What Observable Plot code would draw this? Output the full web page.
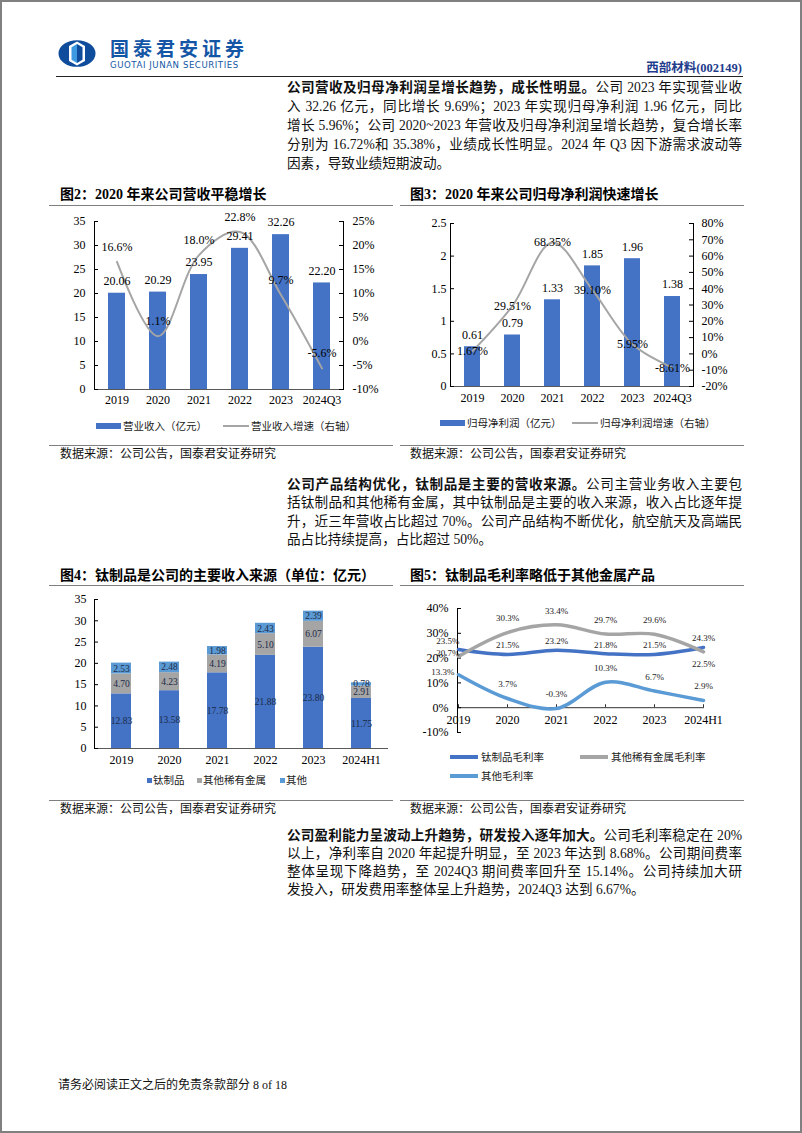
<!DOCTYPE html>
<html><head><meta charset="utf-8">
<script src="https://cdn.jsdelivr.net/npm/d3@7"></script>
<script src="https://cdn.jsdelivr.net/npm/@observablehq/plot@0.6"></script>
<style>
html,body{margin:0;padding:0;background:#fff;}
body{width:802px;height:1133px;position:relative;overflow:hidden;font-family:"Liberation Serif","Noto Sans CJK SC",serif;color:#111;}
.abs{position:absolute;}
.border{position:absolute;left:0;top:0;width:802px;height:1133px;box-sizing:border-box;border:2px solid #808080;}
.para{position:absolute;left:287px;width:455px;font-size:13.6px;}
.para div{white-space:nowrap;text-align:justify;text-align-last:justify;}
.para div.last{text-align-last:left;}
.title{position:absolute;font-weight:bold;font-size:14px;line-height:16px;white-space:nowrap;color:#000;}
.rule{position:absolute;height:0;border-top:1px solid #7f7f7f;}
.src{position:absolute;font-size:12px;line-height:14px;white-space:nowrap;color:#111;}
.lg{position:absolute;font-size:10.5px;line-height:14px;white-space:nowrap;color:#222;font-family:"Noto Sans CJK SC",sans-serif;}
.sw{position:absolute;}
svg.chart{position:absolute;}
</style>
</head>
<body>
<div class="border"></div>

<!-- header -->
<svg class="abs" style="left:58px;top:40px" width="38" height="27" viewBox="0 0 38 27">
  <ellipse cx="19" cy="13.5" rx="18.5" ry="13.3" fill="#0f4c9c"/>
  <polygon points="19,1.5 27,6 27,21 19,25.5 11,21 11,6" fill="#ffffff"/>
  <polygon points="19,4 19,23 13.5,19.8 13.5,7.2" fill="#3d9ae2"/>
  <polygon points="19,4 24.5,7.2 24.5,19.8 19,23" fill="#0f4c9c"/>
</svg>
<div class="abs" style="left:110px;top:38px;font-family:'Noto Sans CJK SC',sans-serif;font-weight:bold;font-size:19px;line-height:19px;height:19px;letter-spacing:4px;color:#1456a6;white-space:nowrap;">国泰君安证券</div>
<div class="abs" style="left:110px;top:60.5px;font-family:'DejaVu Sans',sans-serif;font-size:8.6px;line-height:9px;letter-spacing:0.55px;color:#1456a6;white-space:nowrap;">GUOTAI JUNAN SECURITIES</div>
<div class="abs" style="left:600px;width:142px;top:60px;text-align:right;font-weight:bold;font-size:12.5px;line-height:16px;color:#1f3d8c;white-space:nowrap;">西部材料(002149)</div>
<div class="abs" style="left:56px;width:687px;top:76px;height:0;border-top:1.6px solid #222;"></div>

<div class="para" style="top:78px;line-height:19px;">
<div><b>公司营收及归母净利润呈增长趋势，成长性明显。</b>公司 2023 年实现营业收</div>
<div>入 32.26 亿元，同比增长 9.69%；2023 年实现归母净利润 1.96 亿元，同比</div>
<div>增长 5.96%；公司 2020~2023 年营收及归母净利润呈增长趋势，复合增长率</div>
<div>分别为 16.72%和 35.38%，业绩成长性明显。2024 年 Q3 因下游需求波动等</div>
<div class="last">因素，导致业绩短期波动。</div>
</div>

<!-- chart titles / rules / sources -->
<div class="title" style="left:60px;top:187px;">图2：2020 年来公司营收平稳增长</div>
<div class="rule" style="left:49px;width:344px;top:205px;"></div>
<div class="title" style="left:410px;top:187px;">图3：2020 年来公司归母净利润快速增长</div>
<div class="rule" style="left:400px;width:344px;top:205px;"></div>
<div class="rule" style="left:49px;width:344px;top:445px;"></div>
<div class="rule" style="left:400px;width:344px;top:445px;"></div>
<div class="src" style="left:60px;top:447px;">数据来源：公司公告，国泰君安证券研究</div>
<div class="src" style="left:410px;top:447px;">数据来源：公司公告，国泰君安证券研究</div>

<div class="para" style="top:476px;line-height:18.3px;">
<div><b>公司产品结构优化，钛制品是主要的营收来源。</b>公司主营业务收入主要包</div>
<div>括钛制品和其他稀有金属，其中钛制品是主要的收入来源，收入占比逐年提</div>
<div>升，近三年营收占比超过 70%。公司产品结构不断优化，航空航天及高端民</div>
<div class="last">品占比持续提高，占比超过 50%。</div>
</div>

<div class="title" style="left:60px;top:568px;">图4：钛制品是公司的主要收入来源（单位：亿元）</div>
<div class="rule" style="left:49px;width:344px;top:585px;"></div>
<div class="title" style="left:410px;top:568px;">图5：钛制品毛利率略低于其他金属产品</div>
<div class="rule" style="left:400px;width:344px;top:585px;"></div>
<div class="rule" style="left:49px;width:344px;top:800px;"></div>
<div class="rule" style="left:400px;width:344px;top:800px;"></div>
<div class="src" style="left:60px;top:802px;">数据来源：公司公告，国泰君安证券研究</div>
<div class="src" style="left:410px;top:802px;">数据来源：公司公告，国泰君安证券研究</div>

<div class="para" style="top:827px;line-height:18px;">
<div><b>公司盈利能力呈波动上升趋势，研发投入逐年加大。</b>公司毛利率稳定在 20%</div>
<div>以上，净利率自 2020 年起提升明显，至 2023 年达到 8.68%。公司期间费率</div>
<div>整体呈现下降趋势，至 2024Q3 期间费率回升至 15.14%。公司持续加大研</div>
<div class="last">发投入，研发费用率整体呈上升趋势，2024Q3 达到 6.67%。</div>
</div>

<div class="abs" style="left:58px;top:1078px;font-size:12px;line-height:14px;white-space:nowrap;">请务必阅读正文之后的免责条款部分 8 of 18</div>

<!-- legends -->
<div class="sw" style="left:96px;top:423px;width:25px;height:6px;background:#4472C4"></div>
<div class="lg" style="left:123px;top:419px;">营业收入（亿元）</div>
<div class="sw" style="left:223px;top:425px;width:26px;height:2px;background:#A5A5A5"></div>
<div class="lg" style="left:251px;top:419px;">营业收入增速（右轴）</div>

<div class="sw" style="left:440px;top:420px;width:25px;height:6px;background:#4472C4"></div>
<div class="lg" style="left:467px;top:416px;">归母净利润（亿元）</div>
<div class="sw" style="left:572px;top:422px;width:26px;height:2px;background:#A5A5A5"></div>
<div class="lg" style="left:600px;top:416px;">归母净利润增速（右轴）</div>

<div class="sw" style="left:147px;top:778px;width:5px;height:5px;background:#4472C4"></div>
<div class="lg" style="left:153px;top:773px;">钛制品</div>
<div class="sw" style="left:197px;top:778px;width:5px;height:5px;background:#A5A5A5"></div>
<div class="lg" style="left:203px;top:773px;">其他稀有金属</div>
<div class="sw" style="left:280px;top:778px;width:5px;height:5px;background:#5B9BD5"></div>
<div class="lg" style="left:286px;top:773px;">其他</div>

<div class="sw" style="left:450px;top:755px;width:28px;height:4px;background:#4472C4"></div>
<div class="lg" style="left:481px;top:750px;">钛制品毛利率</div>
<div class="sw" style="left:580px;top:755px;width:28px;height:4px;background:#A5A5A5"></div>
<div class="lg" style="left:611px;top:750px;">其他稀有金属毛利率</div>
<div class="sw" style="left:450px;top:774px;width:28px;height:4px;background:#5B9BD5"></div>
<div class="lg" style="left:481px;top:769px;">其他毛利率</div>

<script>
// ---------------- data ----------------
const years2 = ["2019", "2020", "2021", "2022", "2023", "2024Q3"];
const revenue = [20.06, 20.29, 23.95, 29.41, 32.26, 22.20];
const revenueGrowth = [16.6, 1.1, 18.0, 22.8, 9.7, -5.6];
const revTicksLeft = [0, 5, 10, 15, 20, 25, 30, 35];
const revTicksRight = [-10, -5, 0, 5, 10, 15, 20, 25];

const years3 = ["2019", "2020", "2021", "2022", "2023", "2024Q3"];
const netProfit = [0.61, 0.79, 1.33, 1.85, 1.96, 1.38];
const netProfitGrowth = [1.67, 29.51, 68.35, 39.10, 5.95, -8.61];
const npTicksLeft = [0, 0.5, 1, 1.5, 2, 2.5];
const npTicksRight = [-20, -10, 0, 10, 20, 30, 40, 50, 60, 70, 80];

const years4 = ["2019", "2020", "2021", "2022", "2023", "2024H1"];
const segments4 = ["钛制品", "其他稀有金属", "其他"];
const titaniumRev = [12.83, 13.58, 17.78, 21.88, 23.80, 11.75];
const rareMetalRev = [4.70, 4.23, 4.19, 5.10, 6.07, 2.91];
const otherRev = [2.53, 2.48, 1.98, 2.43, 2.39, 0.78];
const segTicks = [0, 5, 10, 15, 20, 25, 30, 35];

const years5 = ["2019", "2020", "2021", "2022", "2023", "2024H1"];
const series5 = ["钛制品毛利率", "其他稀有金属毛利率", "其他毛利率"];
const titaniumMargin = [23.5, 21.5, 23.2, 21.8, 21.5, 24.3];
const rareMetalMargin = [20.7, 30.3, 33.4, 29.7, 29.6, 22.5];
const otherMargin = [13.3, 3.7, -0.3, 10.3, 6.7, 2.9];
const marginTicks = [-10, 0, 10, 20, 30, 40];

// ---------------- helpers ----------------
const BLUE = "#4472C4", GRAY = "#A5A5A5", LBLUE = "#5B9BD5";
const FONT = '"Liberation Serif","Noto Sans CJK SC",serif';
function place(svg, left, top) {
  svg.classList.add("chart");
  svg.style.left = left + "px";
  svg.style.top = top + "px";
  document.body.appendChild(svg);
}
function dual(r0, r1, l0, l1) {
  return [g => (g - r0) / (r1 - r0) * (l1 - l0) + l0, v => (v - l0) / (l1 - l0) * (r1 - r0) + r0];
}
const baseStyle = {fontFamily: FONT, fontSize: "12px", color: "#000", background: "transparent", overflow: "visible"};

// ---------------- chart 2 ----------------
{
  const W = 343, H = 205, mL = 44, mR = 50, mT = 13, mB = 24, pw = W - mL - mR;
  const [toL, fromL] = dual(-10, 25, 0, 35);
  const rows = years2.map((y, i) => ({year: y, value: revenue[i], growth: revenueGrowth[i]}));
  const svg = Plot.plot({
    width: W, height: H, marginLeft: mL, marginRight: mR, marginTop: mT, marginBottom: mB,
    style: baseStyle,
    x: {type: "band", domain: years2, paddingInner: 0.59, paddingOuter: 0.295},
    y: {domain: [0, 35]},
    marks: [
      Plot.barY(rows, {x: "year", y: "value", fill: BLUE}),
      Plot.frame({anchor: "bottom", stroke: "#595959"}),
      Plot.frame({anchor: "left", stroke: "#000"}),
      Plot.frame({anchor: "right", stroke: "#000"}),
      Plot.tickY(revTicksLeft, {y: d => d, insetRight: pw - 4, stroke: "#000"}),
      Plot.tickY(revTicksRight.map(toL), {y: d => d, insetLeft: pw - 4, stroke: "#000"}),
      Plot.axisY(revTicksLeft, {anchor: "left", label: null, tickSize: 0, tickPadding: 9, tickFormat: d => String(d)}),
      Plot.axisY(revTicksRight.map(toL), {anchor: "right", label: null, tickSize: 0, tickPadding: 9, tickFormat: d => Math.round(fromL(d)) + "%"}),
      Plot.axisX({anchor: "bottom", label: null, tickSize: 0, tickPadding: 6}),
      Plot.line(rows, {x: "year", y: d => toL(d.growth), stroke: GRAY, strokeWidth: 2, curve: "catmull-rom"}),
      Plot.text(rows, {x: "year", y: "value", text: d => d.value.toFixed(2), dy: -12, fontSize: 12}),
      Plot.text(rows, {x: "year", y: d => toL(d.growth), text: d => d.growth.toFixed(1) + "%", dy: -15, fontSize: 12})
    ]
  });
  place(svg, 50, 208);
}

// ---------------- chart 3 ----------------
{
  const W = 343, H = 205, mL = 50, mR = 50, mT = 15, mB = 27, pw = W - mL - mR;
  const [toL, fromL] = dual(-20, 80, 0, 2.5);
  const rows = years3.map((y, i) => ({year: y, value: netProfit[i], growth: netProfitGrowth[i]}));
  const svg = Plot.plot({
    width: W, height: H, marginLeft: mL, marginRight: mR, marginTop: mT, marginBottom: mB,
    style: baseStyle,
    x: {type: "band", domain: years3, paddingInner: 0.6, paddingOuter: 0.3},
    y: {domain: [0, 2.5]},
    marks: [
      Plot.barY(rows, {x: "year", y: "value", fill: BLUE}),
      Plot.frame({anchor: "bottom", stroke: "#595959"}),
      Plot.frame({anchor: "left", stroke: "#000"}),
      Plot.frame({anchor: "right", stroke: "#000"}),
      Plot.tickY(npTicksLeft, {y: d => d, insetRight: pw - 4, stroke: "#000"}),
      Plot.tickY(npTicksRight.map(toL), {y: d => d, insetLeft: pw - 4, stroke: "#000"}),
      Plot.axisY(npTicksLeft, {anchor: "left", label: null, tickSize: 0, tickPadding: 4, tickFormat: d => String(d)}),
      Plot.axisY(npTicksRight.map(toL), {anchor: "right", label: null, tickSize: 0, tickPadding: 8, tickFormat: d => Math.round(fromL(d)) + "%"}),
      Plot.axisX({anchor: "bottom", label: null, tickSize: 0, tickPadding: 7}),
      Plot.line(rows, {x: "year", y: d => toL(d.growth), stroke: GRAY, strokeWidth: 2, curve: "catmull-rom"}),
      Plot.text(rows, {x: "year", y: "value", text: d => d.value.toFixed(2), dy: -12, fontSize: 12}),
      Plot.text(rows, {x: "year", y: d => toL(d.growth), text: d => d.growth.toFixed(2) + "%", dy: 0, fontSize: 12})
    ]
  });
  place(svg, 400, 208);
}

// ---------------- chart 4 ----------------
{
  const W = 343, H = 185, mL = 44, mR = 6, mT = 9, mB = 27, pw = W - mL - mR;
  const cols = [titaniumRev, rareMetalRev, otherRev];
  const rows = years4.flatMap((y, i) => segments4.map((s, k) => ({year: y, kind: s, value: cols[k][i]})));
  const svg = Plot.plot({
    width: W, height: H, marginLeft: mL, marginRight: mR, marginTop: mT, marginBottom: mB,
    style: baseStyle,
    x: {type: "band", domain: years4, paddingInner: 0.59, paddingOuter: 0.295},
    y: {domain: [0, 35]},
    color: {domain: segments4, range: [BLUE, GRAY, LBLUE]},
    marks: [
      Plot.barY(rows, {x: "year", y: "value", fill: "kind"}),
      Plot.frame({anchor: "bottom", stroke: "#595959"}),
      Plot.frame({anchor: "left", stroke: "#000"}),
      Plot.tickY(segTicks, {y: d => d, insetRight: pw - 4, stroke: "#000"}),
      Plot.axisY(segTicks, {anchor: "left", label: null, tickSize: 0, tickPadding: 8, tickFormat: d => String(d)}),
      Plot.axisX({anchor: "bottom", label: null, tickSize: 0, tickPadding: 7}),
      Plot.text(rows, Plot.stackY({x: "year", y: "value", text: d => d.value.toFixed(2), fill: "#1b2a48", fontSize: 9.5}))
    ]
  });
  place(svg, 50, 590);
}

// ---------------- chart 5 ----------------
{
  const W = 343, H = 150, mL = 57, mR = 39, mT = 18, mB = 8, pw = W - mL - mR;
  const cols = [titaniumMargin, rareMetalMargin, otherMargin];
  const colors = [BLUE, GRAY, LBLUE];
  const rows = series5.flatMap((s, k) => years5.map((y, i) => ({series: s, k, i, year: y, value: cols[k][i]})));
  const fmt = d => d.value.toFixed(1) + "%";
  const aboveDy = [-9, -14, -14];
  const labelMarks = [];
  series5.forEach((s, k) => {
    const r = rows.filter(d => d.k === k);
    const last = years5.length - 1;
    const below = d => k === 1 && d.i === last;
    labelMarks.push(Plot.text(r.filter(d => d.i > 0 && !below(d)), {x: "year", y: "value", text: fmt, dy: aboveDy[k], fontSize: 9, fill: "#222"}));
    labelMarks.push(Plot.text(r.filter(below), {x: "year", y: "value", text: fmt, dy: 12, fontSize: 9, fill: "#222"}));
    labelMarks.push(Plot.text(r.filter(d => d.i === 0), {x: "year", y: "value", text: fmt, textAnchor: "end", dx: k === 2 ? -4 : 1, dy: k === 0 ? -8 : -3, fontSize: 9, fill: "#222"}));
  });
  const svg = Plot.plot({
    width: W, height: H, marginLeft: mL, marginRight: mR, marginTop: mT, marginBottom: mB,
    style: baseStyle,
    x: {type: "point", domain: years5, padding: 0, axis: null},
    y: {domain: [-10, 40], axis: null},
    color: {domain: series5, range: colors},
    marks: [
      Plot.ruleY([0], {stroke: "#333"}),
      Plot.ruleX(years5, {x: d => d, y1: () => 0, y2: () => 1.2, stroke: "#333"}),
      Plot.frame({anchor: "left", stroke: "#000"}),
      Plot.tickY(marginTicks, {y: d => d, insetRight: pw - 4, stroke: "#000"}),
      Plot.axisY(marginTicks, {anchor: "left", label: null, tickSize: 0, tickPadding: 9, tickFormat: d => d + "%"}),
      Plot.line(rows, {x: "year", y: "value", z: "series", stroke: "series", strokeWidth: 3.5, curve: "catmull-rom"}),
      Plot.text(years5, {x: d => d, y: () => 0, text: d => d, dy: 12.5, fontSize: 12}),
      ...labelMarks
    ]
  });
  place(svg, 400, 590);
}
</script>
</body></html>
